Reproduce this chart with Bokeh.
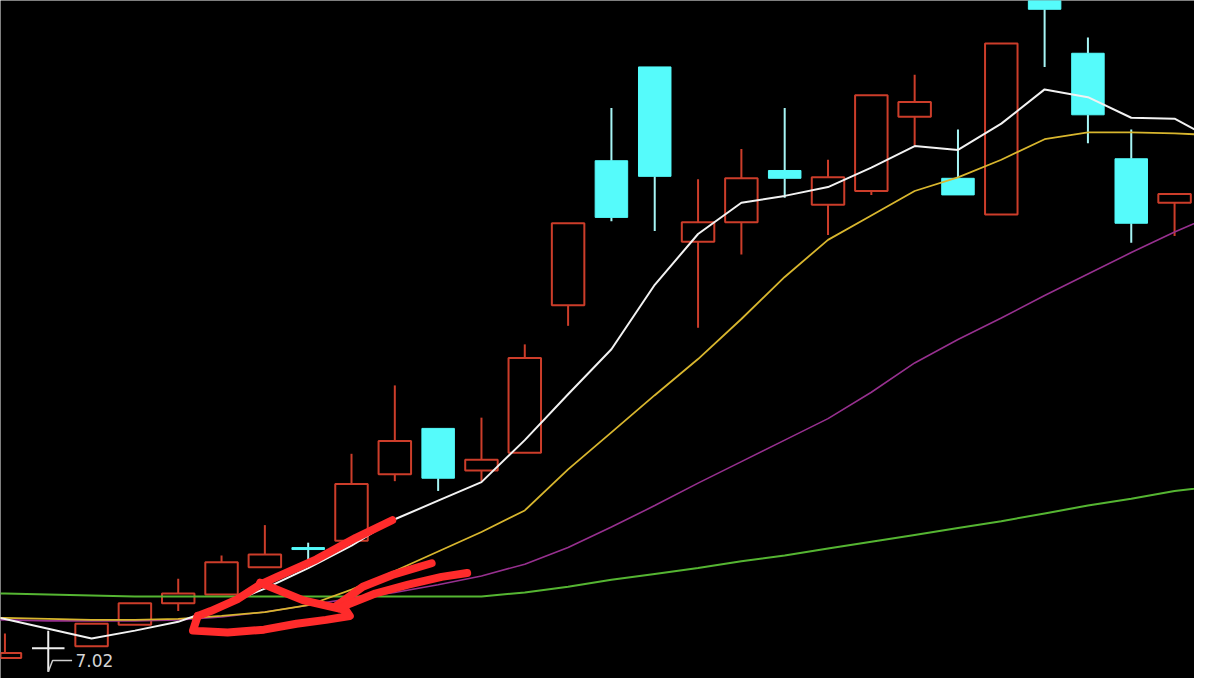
from bokeh.plotting import figure
from bokeh.models import ColumnDataSource, Range1d
from bokeh.core.properties import value
from bokeh.embed import file_html
from bokeh.resources import INLINE

# ---- candle data (index = trading day) ----
idx = list(range(28))
opens  = [7.16, 7.26, 7.28, 7.50, 7.72, 7.81, 8.09, 8.29, 8.36, 9.04, 9.51, 9.08, 9.26, 10.77,
          12.25, 13.21, 11.42, 11.62, 12.15, 11.80, 11.94, 12.70, 12.07, 11.70, 14.19, 13.35, 12.27, 11.82]
closes = [7.21, 7.26, 7.51, 7.72, 7.82, 8.14, 8.22, 8.27, 8.94, 9.38, 9.00, 9.19, 10.23, 11.61,
          11.67, 12.09, 11.62, 12.07, 12.07, 12.08, 12.92, 12.85, 11.90, 13.45, 13.80, 12.72, 11.61, 11.91]
highs  = [7.41, 7.44, 7.51, 7.72, 7.97, 8.21, 8.52, 8.34, 9.25, 9.95, 9.51, 9.62, 10.37, 11.61,
          12.79, 13.21, 12.06, 12.37, 12.79, 12.26, 12.92, 13.13, 12.57, 13.45, 14.19, 13.51, 12.57, 11.91]
lows   = [7.16, 7.02, 7.28, 7.50, 7.64, 7.81, 8.09, 8.17, 8.36, 8.97, 8.87, 8.97, 9.26, 10.56,
          11.63, 11.53, 10.54, 11.29, 11.87, 11.49, 11.90, 12.41, 11.90, 11.70, 13.21, 12.43, 11.41, 11.48]

# ---- moving averages (one day beyond each edge) ----
ma_idx = list(range(-1, 29))
ma5  = [7.64, 7.56, 7.46, 7.36, 7.44, 7.53, 7.69, 7.87, 8.08, 8.31, 8.58, 8.77, 8.96, 9.39, 9.86,
        10.32, 10.98, 11.50, 11.82, 11.89, 11.98, 12.18, 12.40, 12.36, 12.63, 12.98, 12.90, 12.69, 12.68, 12.44]
ma10 = [7.58, 7.57, 7.56, 7.55, 7.55, 7.56, 7.59, 7.63, 7.70, 7.86, 8.05, 8.25, 8.45, 8.67, 9.09,
        9.47, 9.85, 10.22, 10.63, 11.06, 11.44, 11.69, 11.94, 12.08, 12.26, 12.47, 12.54, 12.54, 12.53, 12.51]
ma20 = [7.55, 7.55, 7.54, 7.54, 7.54, 7.55, 7.58, 7.63, 7.70, 7.77, 7.83, 7.91, 8.00, 8.12, 8.29,
        8.50, 8.72, 8.95, 9.17, 9.39, 9.61, 9.88, 10.18, 10.42, 10.64, 10.87, 11.09, 11.31, 11.52, 11.71]
ma60 = [7.83, 7.82, 7.81, 7.80, 7.79, 7.79, 7.79, 7.79, 7.79, 7.79, 7.79, 7.79, 7.79, 7.83, 7.89,
        7.96, 8.02, 8.08, 8.15, 8.21, 8.28, 8.35, 8.42, 8.49, 8.56, 8.64, 8.72, 8.79, 8.87, 8.92]

# ---- hand-drawn red marking (day index, price) ----
mark_xs = [
    [8.94, 8.10, 7.19, 6.28, 5.89, 5.36, 4.75, 4.45],
    [5.89, 6.89, 7.87, 7.96, 7.41, 6.73, 5.98, 5.14, 4.34, 4.45],
    [7.64, 8.26, 8.94, 9.85],
    [7.71, 8.55, 9.31, 10.08, 10.67],
]
mark_ys = [
    [8.57, 8.39, 8.17, 7.99, 7.91, 7.76, 7.64, 7.59],
    [7.93, 7.75, 7.65, 7.59, 7.55, 7.51, 7.45, 7.42, 7.44, 7.59],
    [7.69, 7.89, 8.01, 8.13],
    [7.67, 7.82, 7.91, 7.99, 8.03],
]

RED = "#cc3d2a"
CYAN = "#55fbfb"
CYAN_WICK = "#a6f5f5"
WHITE = "#efefef"
HALF = 0.375

p = figure(width=1194, height=678, x_range=Range1d(-0.1025, 27.46), y_range=Range1d(6.95, 13.89),
           output_backend="svg", toolbar_location=None, x_axis_location=None, y_axis_location=None,
           background_fill_color="black", border_fill_color="black", min_border=0)
p.grid.visible = False
p.outline_line_color = None

up = dict(x=[], top=[], bottom=[])
dn = dict(x=[], top=[], bottom=[])
flat = dict(x0=[], x1=[], y=[], c=[])
wick = dict(x=[], y0=[], y1=[], c=[])
for i, o, c, h, l in zip(idx, opens, closes, highs, lows):
    bt, bb = max(o, c), min(o, c)
    if c > o:
        col = RED; wc = RED
        up["x"].append(i); up["top"].append(bt); up["bottom"].append(bb)
    elif c < o:
        col = CYAN; wc = CYAN_WICK
        dn["x"].append(i); dn["top"].append(bt); dn["bottom"].append(bb)
    else:
        col = WHITE; wc = WHITE
        flat["x0"].append(i - HALF); flat["x1"].append(i + HALF); flat["y"].append(o); flat["c"].append(col)
    if h > bt:
        wick["x"].append(i); wick["y0"].append(h); wick["y1"].append(bt); wick["c"].append(wc)
    if l < bb:
        wick["x"].append(i); wick["y0"].append(bb); wick["y1"].append(l); wick["c"].append(wc)

ws = ColumnDataSource(wick)
p.segment(x0="x", y0="y0", x1="x", y1="y1", line_color="c", line_width=2, source=ws)
p.vbar(x="x", width=2 * HALF, top="top", bottom="bottom", fill_alpha=0, line_color=RED,
       line_width=2, source=ColumnDataSource(up))
p.vbar(x="x", width=2 * HALF, top="top", bottom="bottom", fill_color=CYAN, line_color=CYAN,
       line_width=1, source=ColumnDataSource(dn))
p.segment(x0="x0", y0="y", x1="x1", y1="y", line_color="c", line_width=2, source=ColumnDataSource(flat))

# moving averages
p.line(ma_idx, ma60, line_color="#55b532", line_width=2)
p.line(ma_idx, ma20, line_color="#97308f", line_width=1.6)
p.line(ma_idx, ma10, line_color="#d8b62e", line_width=1.8)
p.line(ma_idx, ma5, line_color="#f2f2f2", line_width=2)

# lowest price label
imin = min(idx, key=lambda k: lows[k])
lo = lows[imin]
lab_y = lo + 0.115
p.line(x=[imin, imin + 0.1, imin + 0.55], y=[lo, lab_y, lab_y], line_color="#d0d0d0", line_width=1.5)
p.text(x=[imin + 0.63], y=[lab_y], text=[f"{lo:.2f}"], text_color="#d4d4d4",
       text_font=value("DejaVu Sans"), text_font_size="17px", text_baseline="middle", text_align="left")

# red marker strokes
p.multi_line(xs=mark_xs, ys=mark_ys, line_color="#ff2b2b", line_width=8,
             line_join="round", line_cap="round")

open("out.html", "w").write(file_html(p, INLINE))
